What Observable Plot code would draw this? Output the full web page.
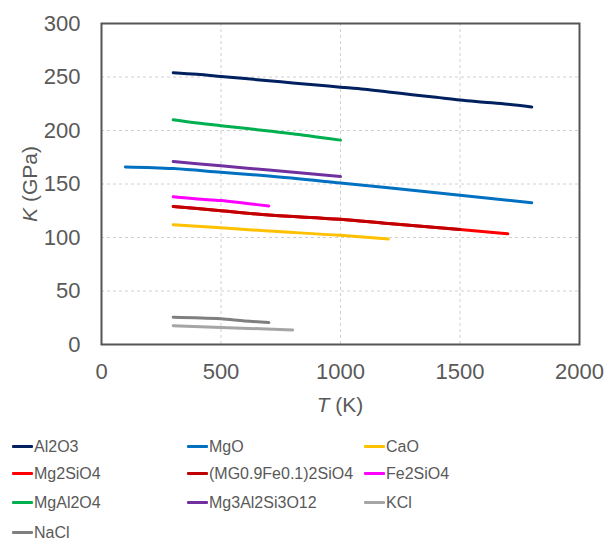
<!DOCTYPE html>
<html>
<head>
<meta charset="utf-8">
<script src="https://cdn.jsdelivr.net/npm/d3@7"></script>
<script src="https://cdn.jsdelivr.net/npm/@observablehq/plot@0.6"></script>
<style>
  body { margin: 0; background: #fff; font-family: "Liberation Sans", Arial, sans-serif; }
  #chart { position: relative; width: 605px; }
  #legend { position: relative; width: 605px; height: 115px; }
  .item { position: absolute; font-size: 16px; color: #595959; line-height: 18px; white-space: nowrap; }
  .sw { display: inline-block; width: 21px; height: 3px; vertical-align: middle; margin-right: 1px; border-radius: 1px; position: relative; top: -1px; }
</style>
</head>
<body>
<div id="chart"></div>
<div id="legend"></div>
<script>
// Series names and colours
const seriesNames = ["Al2O3", "MgO", "CaO", "Mg2SiO4", "(MG0.9Fe0.1)2SiO4", "Fe2SiO4", "MgAl2O4", "Mg3Al2Si3O12", "KCl", "NaCl"];
const seriesColors = ["#002060", "#0070C0", "#FFC000", "#FF0000", "#C00000", "#FF00FF", "#00B050", "#7030A0", "#A5A5A5", "#7F7F7F"];

// Temperatures (K) and bulk modulus K (GPa) per series
const al2o3T = [300, 400, 500, 600, 700, 800, 900, 1000, 1100, 1200, 1300, 1400, 1500, 1600, 1700, 1800];
const al2o3K = [254, 252.5, 250.5, 248.5, 246.5, 244.5, 242.5, 240.5, 238.5, 236, 233.5, 231, 228.5, 226.5, 224.5, 222];
const mgoT = [100, 300, 500, 700, 1000, 1200, 1500, 1800];
const mgoK = [166, 164.5, 161, 157.5, 151, 146.5, 139.5, 132.5];
const caoT = [300, 500, 700, 1000, 1200];
const caoK = [112, 109, 106, 102, 98.5];
const mg2sio4T = [300, 500, 700, 1000, 1200, 1500, 1700];
const mg2sio4K = [129, 125, 121, 117, 113, 107.5, 103.5];
const mgfeT = [300, 500, 700, 1000, 1200, 1500];
const mgfeK = [129, 125, 121, 117, 113, 107.5];
const fe2sio4T = [300, 400, 500, 600, 700];
const fe2sio4K = [138, 136, 134.5, 132, 129.5];
const mgal2o4T = [300, 400, 500, 600, 700, 800, 900, 1000];
const mgal2o4K = [210, 207, 204.5, 202, 199.5, 197, 194, 191];
const garnetT = [300, 500, 700, 1000];
const garnetK = [171, 167, 163, 157];
const kclT = [300, 500, 800];
const kclK = [17.5, 16, 13.5];
const naclT = [300, 500, 600, 700];
const naclK = [25.5, 24, 22, 20.5];

// Axis ticks
const xTicks = [0, 500, 1000, 1500, 2000];
const yTicks = [0, 50, 100, 150, 200, 250, 300];

const seriesT = [al2o3T, mgoT, caoT, mg2sio4T, mgfeT, fe2sio4T, mgal2o4T, garnetT, kclT, naclT];
const seriesK = [al2o3K, mgoK, caoK, mg2sio4K, mgfeK, fe2sio4K, mgal2o4K, garnetK, kclK, naclK];

const rows = seriesNames.flatMap((name, i) =>
  seriesT[i].map((t, j) => ({series: name, T: t, K: seriesK[i][j]})));

const chart = Plot.plot({
  width: 605,
  height: 425,
  marginLeft: 101,
  marginRight: 26,
  marginTop: 23,
  marginBottom: 81,
  style: {fontFamily: "Liberation Sans, Arial, sans-serif", background: "#fff"},
  x: {domain: [0, 2000], ticks: xTicks, label: null},
  y: {domain: [0, 300], ticks: yTicks, label: null},
  color: {domain: seriesNames, range: seriesColors},
  marks: [
    Plot.gridX(xTicks, {stroke: "#d0d0d0", strokeOpacity: 1, strokeDasharray: "3,3"}),
    Plot.gridY(yTicks, {stroke: "#d0d0d0", strokeOpacity: 1, strokeDasharray: "3,3"}),
    Plot.frame({stroke: "#555", strokeWidth: 2}),
    Plot.axisX(xTicks, {tickSize: 0, tickPadding: 19, fontSize: 22, fill: "#595959", label: null, tickFormat: d3.format("d")}),
    Plot.axisY(yTicks, {tickSize: 0, tickPadding: 21, fontSize: 22, fill: "#595959", label: null, tickFormat: d3.format("d")}),
    Plot.line(rows, {x: "T", y: "K", z: "series", stroke: "series", strokeWidth: 3, curve: "monotone-x"})
  ]
});

// Axis titles with italic symbols
const svg = d3.select(chart);
svg.append("text")
  .attr("x", 340).attr("y", 412)
  .attr("text-anchor", "middle")
  .attr("font-size", 21).attr("fill", "#595959")
  .call(t => { t.append("tspan").attr("font-style", "italic").text("T"); t.append("tspan").text(" (K)"); });
svg.append("text")
  .attr("transform", "translate(37,184) rotate(-90)")
  .attr("text-anchor", "middle")
  .attr("font-size", 21).attr("fill", "#595959")
  .call(t => { t.append("tspan").attr("font-style", "italic").text("K"); t.append("tspan").text(" (GPa)"); });

document.getElementById("chart").appendChild(chart);

// Legend below the SVG
const legend = document.getElementById("legend");
const colX = [12, 187, 364];
const rowY = [22, 49, 78, 108];
seriesNames.forEach((name, i) => {
  const d = document.createElement("div");
  d.className = "item";
  d.style.left = colX[i % 3] + "px";
  d.style.top = (rowY[Math.floor(i / 3)] - 9) + "px";
  const s = document.createElement("span");
  s.className = "sw";
  s.style.background = seriesColors[i];
  d.appendChild(s);
  d.appendChild(document.createTextNode(name));
  legend.appendChild(d);
});
</script>
</body>
</html>
